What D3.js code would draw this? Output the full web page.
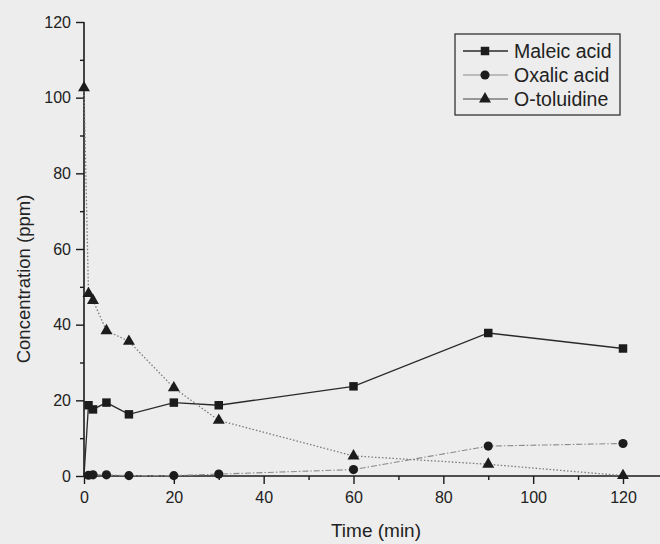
<!DOCTYPE html>
<html><head><meta charset="utf-8">
<script src="https://cdn.jsdelivr.net/npm/d3@7"></script>
<style>
html,body{margin:0;padding:0;background:#ededed;}
svg{display:block;}
</style></head>
<body>
<svg id="chart" width="660" height="544"></svg>
<script>
const times = [0, 1, 2, 5, 10, 20, 30, 60, 90, 120];
const maleicAcid = [0, 18.7, 17.6, 19.4, 16.3, 19.4, 18.7, 23.7, 37.8, 33.7];
const oxalicAcid = [0, 0.2, 0.3, 0.3, 0.1, 0.1, 0.5, 1.7, 7.9, 8.6];
const oToluidine = [102.6, 48.2, 46.4, 38.4, 35.6, 23.3, 14.7, 5.3, 3.1, 0.1];
const seriesNames = ["Maleic acid", "Oxalic acid", "O-toluidine"];
const xTicks = [0, 20, 40, 60, 80, 100, 120];
const yTicks = [0, 20, 40, 60, 80, 100, 120];
const xMinor = [10, 30, 50, 70, 90, 110];
const yMinor = [10, 30, 50, 70, 90, 110];

const svg = d3.select("#chart");
const W = 660, H = 544;
const m = {left: 84, top: 22, bottom: 68};
const x = d3.scaleLinear().domain([0, 129]).range([m.left, m.left + 129 * (539 / 120)]);
const y = d3.scaleLinear().domain([0, 120]).range([H - m.bottom, m.top]);

svg.append("rect").attr("width", W).attr("height", H).attr("fill", "#ededed");

const font = "'Liberation Sans', Arial, sans-serif";
const axisColor = "#1a1a1a";

// X axis
const gx = svg.append("g").attr("transform", `translate(0,${y(0)})`)
  .call(d3.axisBottom(x).tickValues(xTicks).tickFormat(d3.format("d")).tickSize(8).tickPadding(8));
gx.append("g").call(d3.axisBottom(x).tickValues(xMinor).tickFormat("").tickSize(4));
// Y axis
const gy = svg.append("g").attr("transform", `translate(${x(0)},0)`)
  .call(d3.axisLeft(y).tickValues(yTicks).tickFormat(d3.format("d")).tickSize(8).tickPadding(5));
gy.append("g").call(d3.axisLeft(y).tickValues(yMinor).tickFormat("").tickSize(4));

svg.selectAll(".domain").attr("stroke", axisColor).attr("stroke-width", 1.6);
svg.selectAll(".tick line").attr("stroke", axisColor).attr("stroke-width", 1.4);
svg.selectAll(".tick text").attr("font-family", font).attr("font-size", 16).attr("fill", "#222");
gy.selectAll(".domain").attr("d", `M0,${y(120)}V${y(0)}`);
gx.selectAll(".domain").attr("d", `M${x(0)},0H${W}`);
gx.selectAll("g > g .domain").remove();
gy.selectAll("g > g .domain").remove();

// Axis titles
svg.append("text").attr("x", 376).attr("y", 537).attr("text-anchor", "middle")
  .attr("font-family", font).attr("font-size", 19).attr("fill", "#222").text("Time (min)");
svg.append("text").attr("transform", `translate(30,279) rotate(-90)`).attr("text-anchor", "middle")
  .attr("font-family", font).attr("font-size", 18.5).attr("fill", "#222").text("Concentration (ppm)");

const series = [
  {name: seriesNames[0], vals: maleicAcid, sym: d3.symbolSquare, size: 72, stroke: "#2a2a2a", dash: null, w: 1.3},
  {name: seriesNames[1], vals: oxalicAcid, sym: d3.symbolCircle, size: 66, stroke: "#8a8a8a", dash: "6,2,1.5,2", w: 1.1},
  {name: seriesNames[2], vals: oToluidine, sym: d3.symbolTriangle, size: 62, stroke: "#7a7a7a", dash: "1.5,2", w: 1.3}
];

const line = d3.line().x(d => x(d[0])).y(d => y(d[1]));
series.forEach(s => {
  const pts = times.map((t, i) => [t, s.vals[i]]);
  svg.append("path").attr("d", line(pts)).attr("fill", "none")
    .attr("stroke", s.stroke).attr("stroke-width", s.w)
    .attr("stroke-dasharray", s.dash);
});
series.forEach(s => {
  const pts = times.map((t, i) => [t, s.vals[i]]);
  svg.append("g").selectAll("path").data(pts.slice(s.name === "O-toluidine" ? 0 : 1)).join("path")
    .attr("transform", d => `translate(${x(d[0])},${y(d[1])})`)
    .attr("d", d3.symbol().type(s.sym).size(s.size))
    .attr("fill", "#1c1c1c");
});

// Legend
const lg = svg.append("g");
lg.append("rect").attr("x", 455).attr("y", 34).attr("width", 165).attr("height", 81)
  .attr("fill", "none").attr("stroke", "#333").attr("stroke-width", 1.3);
series.forEach((s, i) => {
  const cy = 51 + i * 24;
  lg.append("line").attr("x1", 463).attr("x2", 508).attr("y1", cy).attr("y2", cy)
    .attr("stroke", s.stroke).attr("stroke-width", s.w);
  lg.append("path").attr("transform", `translate(485,${cy})`)
    .attr("d", d3.symbol().type(s.sym).size(s.size)).attr("fill", "#1c1c1c");
  lg.append("text").attr("x", 514).attr("y", cy + 7).attr("font-family", font)
    .attr("font-size", 19.5).attr("fill", "#222").text(s.name);
});
</script>
</body></html>
